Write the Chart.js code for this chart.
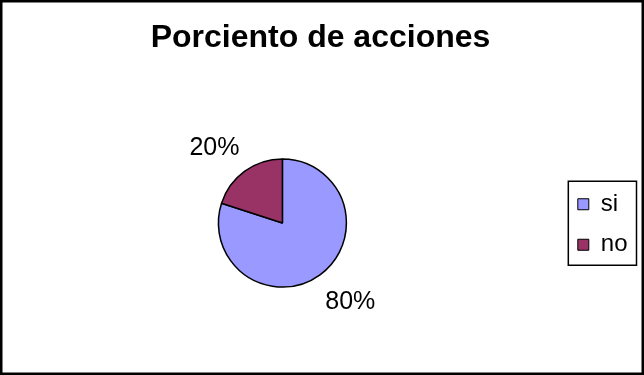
<!DOCTYPE html>
<html>
<head>
<meta charset="utf-8">
<script src="https://cdn.jsdelivr.net/npm/chart.js@4.4.0/dist/chart.umd.min.js"></script>
<style>
  html, body { margin: 0; padding: 0; background: #fff; }
  #wrap { width: 644px; height: 375px; position: relative; }
</style>
</head>
<body>
<div id="wrap"><canvas id="pieChart"></canvas></div>
<script>
const chartTitle = 'Porciento de acciones';
const categories = ['si', 'no'];
const values = [80, 20];
const percentLabels = ['80%', '20%'];
const sliceColors = ['#9999FF', '#993366'];

const fontFamily = '"Liberation Sans", Arial, sans-serif';

// cadre extérieur + cadre autour de la légende
const framePlugin = {
  id: 'frames',
  afterDraw(chart) {
    const ctx = chart.ctx;
    ctx.save();
    ctx.strokeStyle = '#000';
    ctx.lineWidth = 2.5;
    ctx.strokeRect(1.25, 1.25, chart.width - 2.5, chart.height - 2.5);

    const boxes = chart.legend.legendHitBoxes;
    if (boxes && boxes.length) {
      const left = Math.min(...boxes.map(b => b.left));
      const right = Math.max(...boxes.map(b => b.left + b.width));
      const top = Math.min(...boxes.map(b => b.top));
      const bottom = Math.max(...boxes.map(b => b.top + b.height));
      ctx.lineWidth = 1.5;
      ctx.strokeRect(left - 9.5, top - 11, (right - left) + 18.5, (bottom - top) + 19.5);
    }
    ctx.restore();
  }
};

// étiquettes de pourcentage à l'extérieur des parts
const percentPlugin = {
  id: 'percentLabels',
  afterDatasetsDraw(chart) {
    const ctx = chart.ctx;
    const meta = chart.getDatasetMeta(0);
    ctx.save();
    ctx.font = '25px ' + fontFamily;
    ctx.fillStyle = '#000';
    meta.data.forEach((arc, i) => {
      const p = arc.getProps(['x', 'y', 'startAngle', 'endAngle', 'outerRadius'], true);
      const mid = (p.startAngle + p.endAngle) / 2;
      const cos = Math.cos(mid), sin = Math.sin(mid);
      const px = p.x + cos * (p.outerRadius + 9);
      const py = p.y + sin * (p.outerRadius + 20);
      ctx.textAlign = cos < 0 ? 'right' : 'left';
      ctx.textBaseline = 'alphabetic';
      const y = sin < 0 ? py : py + 18;
      ctx.fillText(percentLabels[i], px, y);
    });
    ctx.restore();
  }
};

const ctx = document.getElementById('pieChart').getContext('2d');
const pieChart = new Chart(ctx, {
  type: 'pie',
  data: {
    labels: categories,
    datasets: [{
      data: values,
      backgroundColor: sliceColors,
      borderColor: '#000',
      borderWidth: 1.5,
      radius: 64
    }]
  },
  options: {
    responsive: true,
    maintainAspectRatio: false,
    animation: false,
    events: [],
    layout: { padding: { left: 3.5, right: 6.5, top: 0, bottom: 29 } },
    plugins: {
      title: {
        display: true,
        text: chartTitle,
        color: '#000',
        font: { family: fontFamily, size: 32, weight: 'bold' },
        padding: { top: 18.8, bottom: 42.8 }
      },
      legend: {
        position: 'right',
        align: 'center',
        title: {
          display: true,
          text: ' ',
          font: { family: fontFamily, size: 12, lineHeight: 1.2 },
          padding: { top: 88.6, bottom: 0 }
        },
        labels: {
          boxWidth: 11,
          boxHeight: 11,
          padding: 16.5,
          color: '#000',
          font: { family: fontFamily, size: 24 },
          generateLabels(chart) {
            const items = Chart.overrides.pie.plugins.legend.labels.generateLabels(chart);
            items.forEach(it => { it.lineWidth = 1; it.strokeStyle = '#000'; });
            return items;
          }
        }
      },
      tooltip: { enabled: false }
    }
  },
  plugins: [framePlugin, percentPlugin]
});
</script>
</body>
</html>
